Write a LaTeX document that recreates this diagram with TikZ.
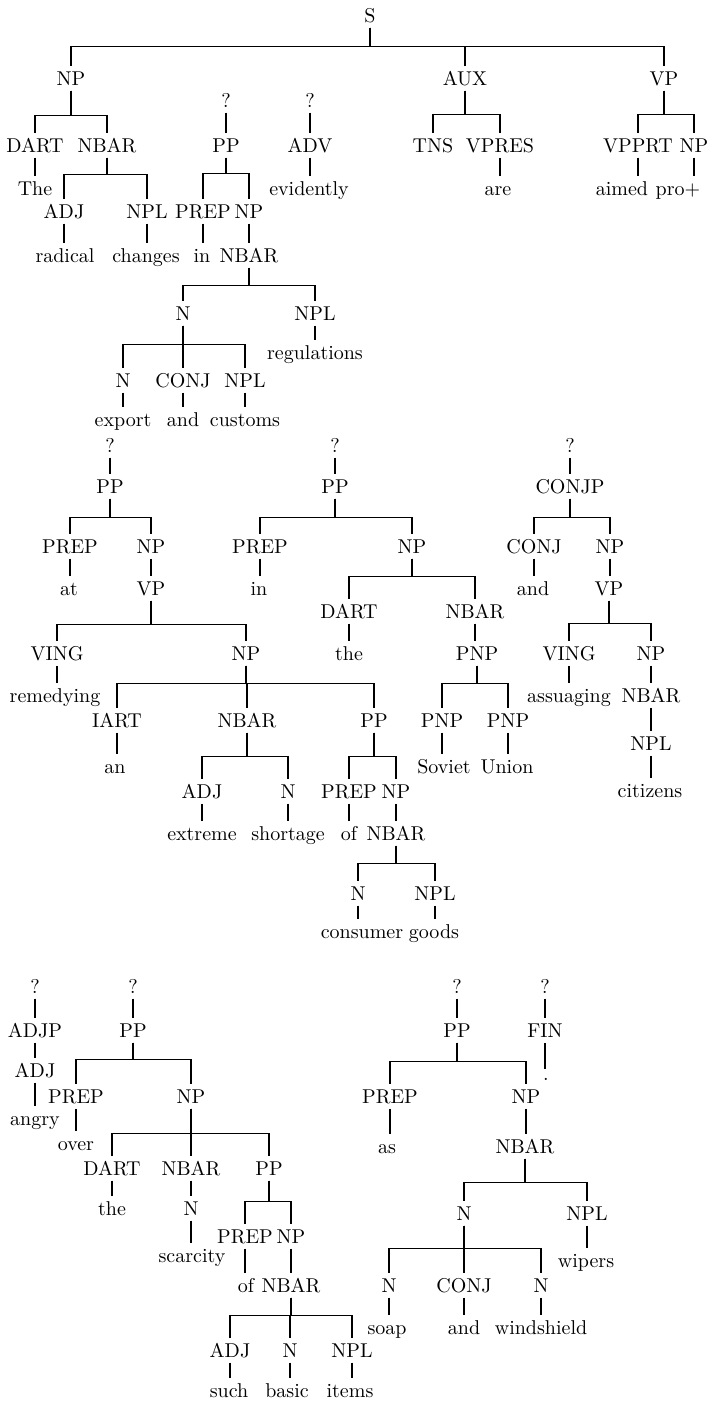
\documentclass[tikz,border=0pt]{standalone}
\usepackage{tikz}

\begin{document}
\begin{tikzpicture}[
    % Global Styles
    x=0.5pt, y=-0.5pt,
    font=\normalsize,
    line width=0.6pt,
    % Node Styles
    cat/.style={
        anchor=base,
        inner sep=2.5pt,
        text height=6.8pt,
        text depth=0pt
    },
    word/.style={cat},
    % Branch Style
    branch/.style={
        draw=black,
        line width=0.6pt
    }
]
    \useasboundingbox (0,0) rectangle (711,1404);

    % --- Nodes ---

    % 1. Root and main constituents
    \node[cat] (s) at (370,22) {S};
    \node[cat] (np) at (71,85) {NP};
    \node[cat] (aux) at (465,85) {AUX};
    \node[cat] (vp) at (664,85) {VP};

    % 2. Subject NP
    \node[cat] (dart) at (35,152) {DART};
    \node[cat] (nbar) at (107,152) {NBAR};
    \node[word] (the) at (35,195) {The};
    \node[cat] (adj) at (64,218) {ADJ};
    \node[cat] (npl) at (147,218) {NPL};
    \node[word] (radical) at (65,262) {radical};
    \node[word] (changes) at (146,262) {changes};

    % 3. Fragment PP "in ..."
    \node[cat] (qpp) at (226,107) {?};
    \node[cat] (pp) at (226,152) {PP};
    \node[cat] (prep) at (203,218) {PREP};
    \node[cat] (ppnp) at (249,218) {NP};
    \node[word] (in) at (202,262) {in};
    \node[cat] (ppnbar) at (249,262) {NBAR};
    \node[cat] (nn) at (183,320) {N};
    \node[cat] (nnpl) at (315,320) {NPL};
    \node[word] (regs) at (315,359) {regulations};
    \node[cat] (n1) at (123,387) {N};
    \node[cat] (conj1) at (183,387) {CONJ};
    \node[cat] (npl1) at (245,387) {NPL};
    \node[word] (export) at (123,426) {export};
    \node[word] (and1) at (183,426) {and};
    \node[word] (customs) at (245,426) {customs};

    % 4. Fragment ADV
    \node[cat] (qadv) at (310,107) {?};
    \node[cat] (adv) at (310,152) {ADV};
    \node[word] (evid) at (309,195) {evidently};

    % 5. AUX and VP
    \node[cat] (tns) at (433,152) {TNS};
    \node[cat] (vpres) at (500,152) {VPRES};
    \node[word] (are) at (498,195) {are};
    \node[cat] (vpprt) at (638,152) {VPPRT};
    \node[cat] (vpnp) at (694,152) {NP};
    \node[word] (aimed) at (622,195) {aimed};
    \node[word] (pro) at (678,195) {pro+};

    % 6. Fragment PP "at ..."
    \node[cat] (qpp2) at (110,452) {?};
    \node[cat] (pp2) at (110,493) {PP};
    \node[cat] (prep2) at (70,553) {PREP};
    \node[cat] (np2) at (151,553) {NP};
    \node[word] (at) at (69,595) {at};
    \node[cat] (vp2) at (151,595) {VP};
    \node[cat] (ving2) at (57,660) {VING};
    \node[cat] (np3) at (246,660) {NP};
    \node[word] (remedying) at (55,702) {remedying};
    \node[cat] (iart) at (117,727) {IART};
    \node[cat] (nbar3) at (247,727) {NBAR};
    \node[cat] (pp3) at (374,727) {PP};
    \node[word] (an) at (115,773) {an};
    \node[cat] (adj3) at (202,798) {ADJ};
    \node[cat] (n3) at (288,798) {N};
    \node[cat] (prep3) at (349,798) {PREP};
    \node[cat] (np4) at (396,798) {NP};
    \node[word] (extreme) at (202,840) {extreme};
    \node[word] (shortage) at (288,840) {shortage};
    \node[word] (of1) at (349,840) {of};
    \node[cat] (nbar4) at (396,840) {NBAR};
    \node[cat] (n4) at (358,900) {N};
    \node[cat] (npl4) at (435,900) {NPL};
    \node[word] (consumer) at (362,938) {consumer};
    \node[word] (goods) at (434,938) {goods};

    % 7. Fragment PP "in the Soviet Union"
    \node[cat] (qpp3) at (335,452) {?};
    \node[cat] (pp4) at (335,493) {PP};
    \node[cat] (prep4) at (260,553) {PREP};
    \node[cat] (np5) at (412,553) {NP};
    \node[word] (in2) at (259,595) {in};
    \node[cat] (dart5) at (349,618) {DART};
    \node[cat] (nbar5) at (475,618) {NBAR};
    \node[word] (the5) at (349,660) {the};
    \node[cat] (pnp) at (477,660) {PNP};
    \node[cat] (pnp1) at (442,727) {PNP};
    \node[cat] (pnp2) at (508,727) {PNP};
    \node[word] (soviet) at (444,773) {Soviet};
    \node[word] (union) at (507,773) {Union};

    % 8. Fragment CONJP
    \node[cat] (qconj) at (570,452) {?};
    \node[cat] (conjp) at (570,493) {CONJP};
    \node[cat] (conj2) at (534,553) {CONJ};
    \node[cat] (np6) at (610,553) {NP};
    \node[word] (and2) at (533,595) {and};
    \node[cat] (vp6) at (609,595) {VP};
    \node[cat] (ving6) at (569,660) {VING};
    \node[cat] (np7) at (651,660) {NP};
    \node[word] (assuaging) at (569,702) {assuaging};
    \node[cat] (nbar7) at (651,702) {NBAR};
    \node[cat] (npl7) at (651,750) {NPL};
    \node[word] (citizens) at (650,797) {citizens};

    % 9. Fragment ADJP
    \node[cat] (qadjp) at (35,993) {?};
    \node[cat] (adjp) at (35,1037) {ADJP};
    \node[cat] (adj8) at (35,1077) {ADJ};
    \node[word] (angry) at (35,1125) {angry};

    % 10. Fragment PP "over ..."
    \node[cat] (qpp9) at (133,993) {?};
    \node[cat] (pp9) at (133,1037) {PP};
    \node[cat] (prep9) at (76,1103) {PREP};
    \node[cat] (np9) at (191,1103) {NP};
    \node[word] (over) at (76,1150) {over};
    \node[cat] (dart9) at (112,1175) {DART};
    \node[cat] (nbar9) at (191,1175) {NBAR};
    \node[cat] (pp10) at (269,1175) {PP};
    \node[word] (the9) at (112,1215) {the};
    \node[cat] (n9) at (191,1215) {N};
    \node[word] (scarcity) at (192,1262) {scarcity};
    \node[cat] (prep10) at (245,1243) {PREP};
    \node[cat] (np10) at (291,1243) {NP};
    \node[word] (of2) at (246,1292) {of};
    \node[cat] (nbar10) at (291,1292) {NBAR};
    \node[cat] (adj10) at (230,1357) {ADJ};
    \node[cat] (n10) at (290,1357) {N};
    \node[cat] (npl10) at (352,1357) {NPL};
    \node[word] (such) at (229,1397) {such};
    \node[word] (basic) at (287,1397) {basic};
    \node[word] (items) at (350,1397) {items};

    % 11. Fragment PP "as ..." and FIN
    \node[cat] (qpp11) at (457,993) {?};
    \node[cat] (pp11) at (457,1037) {PP};
    \node[cat] (qfin) at (545,993) {?};
    \node[cat] (fin) at (545,1037) {FIN};
    \node[word, text height=2.5pt] (dot) at (546,1080) {.};
    \node[cat] (prep11) at (390,1103) {PREP};
    \node[cat] (np11) at (526,1103) {NP};
    \node[word] (as) at (387,1153) {as};
    \node[cat] (nbar11) at (525,1153) {NBAR};
    \node[cat] (n11) at (464,1220) {N};
    \node[cat] (npl11) at (587,1220) {NPL};
    \node[word] (wipers) at (586,1267) {wipers};
    \node[cat] (n12) at (389,1292) {N};
    \node[cat] (conj12) at (464,1292) {CONJ};
    \node[cat] (n13) at (541,1292) {N};
    \node[word] (soap) at (387,1334) {soap};
    \node[word] (and3) at (464,1334) {and};
    \node[word] (windshield) at (541,1334) {windshield};

    % --- Edges ---

    % Forks (parent -> bar -> children)
    \draw[branch] (s.south) -- ++(0,19) -| (np.north);
    \draw[branch] (s.south) -- ++(0,19) -| (aux.north);
    \draw[branch] (s.south) -- ++(0,19) -| (vp.north);

    \draw[branch] (np.south) -- ++(0,25) -| (dart.north);
    \draw[branch] (np.south) -- ++(0,25) -| (nbar.north);
    \draw[branch] (aux.south) -- ++(0,24) -| (tns.north);
    \draw[branch] (aux.south) -- ++(0,24) -| (vpres.north);
    \draw[branch] (vp.south) -- ++(0,24) -| (vpprt.north);
    \draw[branch] (vp.south) -- ++(0,24) -| (vpnp.north);
    \draw[branch] (nbar.south) -- ++(0,17) -| (adj.north);
    \draw[branch] (nbar.south) -- ++(0,17) -| (npl.north);
    \draw[branch] (pp.south) -- ++(0,16) -| (prep.north);
    \draw[branch] (pp.south) -- ++(0,16) -| (ppnp.north);
    \draw[branch] (ppnbar.south) -- ++(0,18) -| (nn.north);
    \draw[branch] (ppnbar.south) -- ++(0,18) -| (nnpl.north);
    \draw[branch] (nn.south) -- ++(0,19) -| (n1.north);
    \draw[branch] (nn.south) -- ++(0,19) -| (conj1.north);
    \draw[branch] (nn.south) -- ++(0,19) -| (npl1.north);

    \draw[branch] (pp2.south) -- ++(0,19) -| (prep2.north);
    \draw[branch] (pp2.south) -- ++(0,19) -| (np2.north);
    \draw[branch] (vp2.south) -- ++(0,24) -| (ving2.north);
    \draw[branch] (vp2.south) -- ++(0,24) -| (np3.north);
    \draw[branch] (np3.south) -- ++(0,18) -| (iart.north);
    \draw[branch] (np3.south) -- ++(0,18) -| (nbar3.north);
    \draw[branch] (np3.south) -- ++(0,18) -| (pp3.north);
    \draw[branch] (nbar3.south) -- ++(0,24) -| (adj3.north);
    \draw[branch] (nbar3.south) -- ++(0,24) -| (n3.north);
    \draw[branch] (pp3.south) -- ++(0,24) -| (prep3.north);
    \draw[branch] (pp3.south) -- ++(0,24) -| (np4.north);
    \draw[branch] (nbar4.south) -- ++(0,18) -| (n4.north);
    \draw[branch] (nbar4.south) -- ++(0,18) -| (npl4.north);

    \draw[branch] (pp4.south) -- ++(0,19) -| (prep4.north);
    \draw[branch] (pp4.south) -- ++(0,19) -| (np5.north);
    \draw[branch] (np5.south) -- ++(0,18) -| (dart5.north);
    \draw[branch] (np5.south) -- ++(0,18) -| (nbar5.north);
    \draw[branch] (pnp.south) -- ++(0,18) -| (pnp1.north);
    \draw[branch] (pnp.south) -- ++(0,18) -| (pnp2.north);

    \draw[branch] (conjp.south) -- ++(0,19) -| (conj2.north);
    \draw[branch] (conjp.south) -- ++(0,19) -| (np6.north);
    \draw[branch] (vp6.south) -- ++(0,23) -| (ving6.north);
    \draw[branch] (vp6.south) -- ++(0,23) -| (np7.north);

    \draw[branch] (pp9.south) -- ++(0,17) -| (prep9.north);
    \draw[branch] (pp9.south) -- ++(0,17) -| (np9.north);
    \draw[branch] (np9.south) -- ++(0,25) -| (dart9.north);
    \draw[branch] (np9.south) -- ++(0,25) -| (nbar9.north);
    \draw[branch] (np9.south) -- ++(0,25) -| (pp10.north);
    \draw[branch] (pp10.south) -- ++(0,21) -| (prep10.north);
    \draw[branch] (pp10.south) -- ++(0,21) -| (np10.north);
    \draw[branch] (nbar10.south) -- ++(0,18) -| (adj10.north);
    \draw[branch] (nbar10.south) -- ++(0,18) -| (n10.north);
    \draw[branch] (nbar10.south) -- ++(0,18) -| (npl10.north);

    \draw[branch] (pp11.south) -- ++(0,19) -| (prep11.north);
    \draw[branch] (pp11.south) -- ++(0,19) -| (np11.north);
    \draw[branch] (nbar11.south) -- ++(0,24) -| (n11.north);
    \draw[branch] (nbar11.south) -- ++(0,24) -| (npl11.north);
    \draw[branch] (n11.south) -- ++(0,23) -| (n12.north);
    \draw[branch] (n11.south) -- ++(0,23) -| (conj12.north);
    \draw[branch] (n11.south) -- ++(0,23) -| (n13.north);

    % Single children (straight down)
    \draw[branch] (dart.south) -- (dart.south |- the.north);
    \draw[branch] (adj.south) -- (adj.south |- radical.north);
    \draw[branch] (npl.south) -- (npl.south |- changes.north);
    \draw[branch] (qpp.south) -- (qpp.south |- pp.north);
    \draw[branch] (prep.south) -- (prep.south |- in.north);
    \draw[branch] (ppnp.south) -- (ppnp.south |- ppnbar.north);
    \draw[branch] (nnpl.south) -- (nnpl.south |- regs.north);
    \draw[branch] (n1.south) -- (n1.south |- export.north);
    \draw[branch] (conj1.south) -- (conj1.south |- and1.north);
    \draw[branch] (npl1.south) -- (npl1.south |- customs.north);
    \draw[branch] (qadv.south) -- (qadv.south |- adv.north);
    \draw[branch] (adv.south) -- (adv.south |- evid.north);
    \draw[branch] (vpres.south) -- (vpres.south |- are.north);
    \draw[branch] (vpprt.south) -- (vpprt.south |- aimed.north);
    \draw[branch] (vpnp.south) -- (vpnp.south |- pro.north);

    \draw[branch] (qpp2.south) -- (qpp2.south |- pp2.north);
    \draw[branch] (prep2.south) -- (prep2.south |- at.north);
    \draw[branch] (np2.south) -- (np2.south |- vp2.north);
    \draw[branch] (ving2.south) -- (ving2.south |- remedying.north);
    \draw[branch] (iart.south) -- (iart.south |- an.north);
    \draw[branch] (adj3.south) -- (adj3.south |- extreme.north);
    \draw[branch] (n3.south) -- (n3.south |- shortage.north);
    \draw[branch] (prep3.south) -- (prep3.south |- of1.north);
    \draw[branch] (np4.south) -- (np4.south |- nbar4.north);
    \draw[branch] (n4.south) -- (n4.south |- consumer.north);
    \draw[branch] (npl4.south) -- (npl4.south |- goods.north);

    \draw[branch] (qpp3.south) -- (qpp3.south |- pp4.north);
    \draw[branch] (prep4.south) -- (prep4.south |- in2.north);
    \draw[branch] (dart5.south) -- (dart5.south |- the5.north);
    \draw[branch] (nbar5.south) -- (nbar5.south |- pnp.north);
    \draw[branch] (pnp1.south) -- (pnp1.south |- soviet.north);
    \draw[branch] (pnp2.south) -- (pnp2.south |- union.north);

    \draw[branch] (qconj.south) -- (qconj.south |- conjp.north);
    \draw[branch] (conj2.south) -- (conj2.south |- and2.north);
    \draw[branch] (np6.south) -- (np6.south |- vp6.north);
    \draw[branch] (ving6.south) -- (ving6.south |- assuaging.north);
    \draw[branch] (np7.south) -- (np7.south |- nbar7.north);
    \draw[branch] (nbar7.south) -- (nbar7.south |- npl7.north);
    \draw[branch] (npl7.south) -- (npl7.south |- citizens.north);

    \draw[branch] (qadjp.south) -- (qadjp.south |- adjp.north);
    \draw[branch] (adjp.south) -- (adjp.south |- adj8.north);
    \draw[branch] (adj8.south) -- (adj8.south |- angry.north);
    \draw[branch] (qpp9.south) -- (qpp9.south |- pp9.north);
    \draw[branch] (prep9.south) -- (prep9.south |- over.north);
    \draw[branch] (dart9.south) -- (dart9.south |- the9.north);
    \draw[branch] (nbar9.south) -- (nbar9.south |- n9.north);
    \draw[branch] (n9.south) -- (n9.south |- scarcity.north);
    \draw[branch] (prep10.south) -- (prep10.south |- of2.north);
    \draw[branch] (np10.south) -- (np10.south |- nbar10.north);
    \draw[branch] (adj10.south) -- (adj10.south |- such.north);
    \draw[branch] (n10.south) -- (n10.south |- basic.north);
    \draw[branch] (npl10.south) -- (npl10.south |- items.north);

    \draw[branch] (qpp11.south) -- (qpp11.south |- pp11.north);
    \draw[branch] (qfin.south) -- (qfin.south |- fin.north);
    \draw[branch] (fin.south) -- (fin.south |- dot.north);
    \draw[branch] (prep11.south) -- (prep11.south |- as.north);
    \draw[branch] (np11.south) -- (np11.south |- nbar11.north);
    \draw[branch] (npl11.south) -- (npl11.south |- wipers.north);
    \draw[branch] (n12.south) -- (n12.south |- soap.north);
    \draw[branch] (conj12.south) -- (conj12.south |- and3.north);
    \draw[branch] (n13.south) -- (n13.south |- windshield.north);

\end{tikzpicture}
\end{document}
